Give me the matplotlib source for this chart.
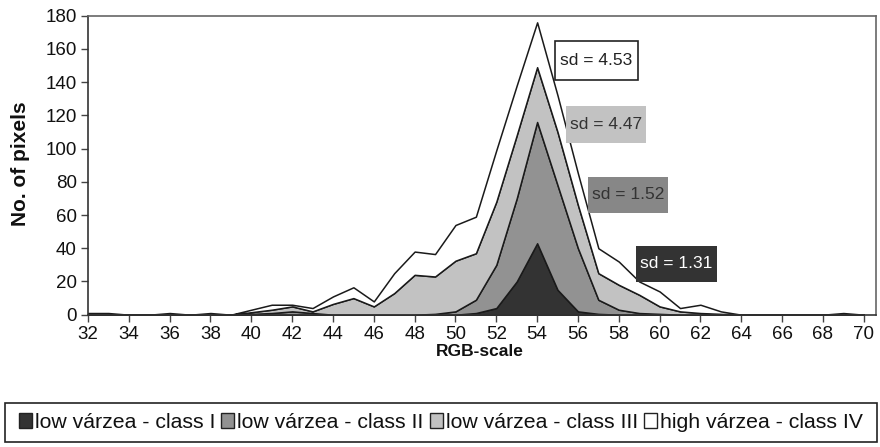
import matplotlib
matplotlib.use("Agg")
import matplotlib.pyplot as plt
from matplotlib.patches import Rectangle, Patch

plt.rcParams['font.family'] = ['Liberation Sans', 'DejaVu Sans']

rgb = list(range(32, 71))
class_I = [0, 0, 0, 0, 0, 0, 0, 0, 0, 0, 0, 0, 0, 0, 0, 0, 0, 0, 0,
           1, 4, 20, 43, 15, 2, 0.5, 0, 0, 0, 0, 0, 0, 0, 0, 0, 0, 0, 0, 0]
class_II = [0, 0, 0, 0, 0, 0, 0, 0, 0.5, 1, 2, 1, 0, 0, 0, 0, 0, 0.5, 2,
            8, 26, 50, 73, 63, 38, 8.5, 3, 1, 0.5, 0, 0, 0, 0, 0, 0, 0, 0, 0, 0]
class_III = [0, 0, 0, 0, 0, 0, 0, 0, 1, 2, 3, 1, 6.5, 10, 5, 13, 24, 22.5, 30.5,
             28, 38, 38, 33, 32, 26, 16, 15, 11, 4.5, 2, 1, 0.5, 0, 0, 0, 0, 0, 0, 0]
class_IV = [1, 1, 0, 0, 1, 0, 1, 0, 1.5, 3, 1, 2, 4.5, 6.5, 3, 12, 14, 13.5, 21.5,
            22, 31, 30, 27, 22, 19, 15, 14, 8, 9, 2, 5, 1.5, 0, 0, 0, 0, 0, 1, 0]

labels = ["low várzea - class I", "low várzea - class II",
          "low várzea - class III", "high várzea - class IV"]
colors = ["#333333", "#929292", "#c2c2c2", "#ffffff"]
sd_texts = ["sd = 4.53", "sd = 4.47", "sd = 1.52", "sd = 1.31"]

W, H = 880, 447
fig = plt.figure(figsize=(W / 100, H / 100), dpi=100)
ax = fig.add_axes([88 / W, 1 - 314.7 / H, (876 - 88) / W, (314.7 - 15.7) / H])

ax.stackplot(rgb, class_I, class_II, class_III, class_IV, colors=colors,
             edgecolor="#1a1a1a", linewidth=1.1)

ax.set_xlim(32, 70.6)
ax.set_ylim(0, 180)
ax.set_yticks(range(0, 181, 20))
ax.set_xticks(range(32, 71, 2))
ax.tick_params(axis='both', labelsize=13.5, direction='out', length=5, width=1,
               color='#444444', labelcolor='#111111')
ax.tick_params(axis='x', pad=3)
ax.tick_params(axis='y', pad=3)
for s in ['left', 'bottom']:
    ax.spines[s].set_color('#333333')
    ax.spines[s].set_linewidth(1.2)
for s in ['top', 'right']:
    ax.spines[s].set_color('#666666')
    ax.spines[s].set_linewidth(1.2)

fig.text(20 / W, 1 - 164 / H, "No. of pixels", rotation=90, ha='center', va='center',
         fontsize=15, fontweight='bold', color='#111111')
fig.text(480 / W, 1 - 352 / H, "RGB-scale", ha='center', va='center',
         fontsize=12.5, fontweight='bold', color='#111111')

# sd boxes (figure pixel coordinates)
boxes = [((555, 41, 638, 80), "#ffffff", "#222222", "#222222"),
         ((566, 106, 646, 143), "#c2c2c2", None, "#333333"),
         ((588, 177, 668, 213), "#878787", None, "#333333"),
         ((636, 246, 717, 282), "#333333", None, "#ffffff")]
for ((x0, y0, x1, y1), fc, ec, tc), txt in zip(boxes, sd_texts):
    r = Rectangle((x0 / W, 1 - y1 / H), (x1 - x0) / W, (y1 - y0) / H,
                  transform=fig.transFigure, facecolor=fc,
                  edgecolor=ec if ec else 'none', linewidth=1.2, zorder=5)
    fig.patches.append(r)
    fig.text((x0 + x1) / 2 / W, 1 - (y0 + y1) / 2 / H, txt, ha='center', va='center',
             fontsize=12.5, color=tc, zorder=6)

# legend frame
frame = Rectangle((5 / W, 1 - 442 / H), (877 - 5) / W, (442 - 403) / H,
                  transform=fig.transFigure, facecolor='white', edgecolor='#222222',
                  linewidth=1.2, zorder=1)
fig.patches.append(frame)
handles = [Patch(facecolor=c, edgecolor='#222222', linewidth=1) for c in colors]
leg = fig.legend(handles, labels, loc='center', bbox_to_anchor=(441 / W, 1 - 422.5 / H),
                 ncol=4, frameon=False, fontsize=15.3, handlelength=0.6, handleheight=0.7,
                 handletextpad=0.15, columnspacing=0.3, borderpad=0.2)
for t in leg.get_texts():
    t.set_color('#111111')

fig.savefig("out.png", dpi=100)
